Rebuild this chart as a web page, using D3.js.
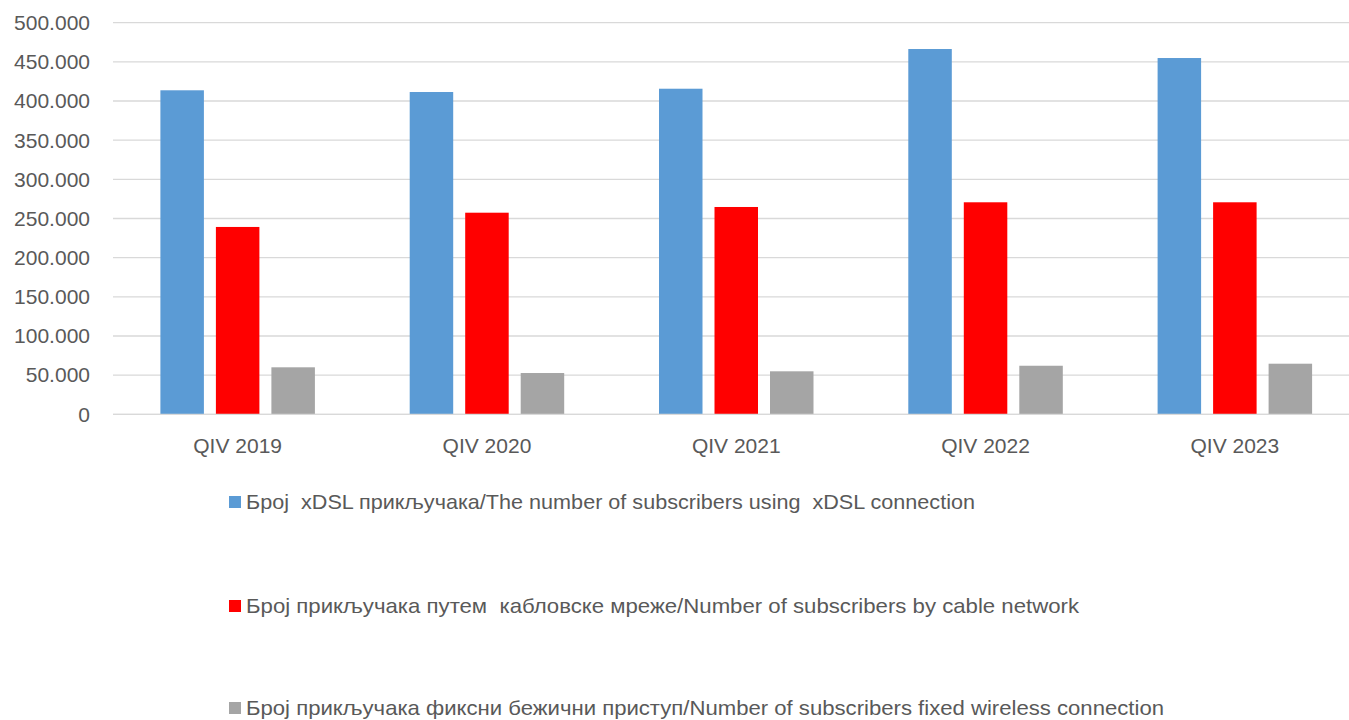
<!DOCTYPE html>
<html>
<head>
<meta charset="utf-8">
<script src="https://cdn.jsdelivr.net/npm/d3@7"></script>
<style>
body{margin:0;background:#fff;}
svg text{font-family:"Liberation Sans",Arial,sans-serif;fill:#595959;}
</style>
</head>
<body>
<svg id="chart" width="1349" height="720"></svg>
<script>
// quarters on the x axis
var quarters = ["QIV 2019","QIV 2020","QIV 2021","QIV 2022","QIV 2023"];
// subscribers per technology
var xdsl = [413700, 411500, 415700, 466400, 454900];
var cable = [239200, 257400, 264700, 270700, 270700];
var wireless = [60000, 52700, 54900, 62000, 64600];
var seriesNames = [
  "Број  xDSL прикључака/The number of subscribers using  xDSL connection",
  "Број прикључака путем  кабловске мреже/Number of subscribers by cable network",
  "Број прикључака фиксни бежични приступ/Number of subscribers fixed wireless connection"
];
var colors = ["#5b9bd5","#ff0000","#a5a5a5"];
var yTicks = [0,50000,100000,150000,200000,250000,300000,350000,400000,450000,500000];

var svg = d3.select("#chart");
var plotL = 113, plotR = 1359.5, plotT = 22.7, plotB = 414.3;

var x = d3.scaleBand().domain(quarters).range([plotL,plotR]).paddingInner(0).paddingOuter(0);
var y = d3.scaleLinear().domain([0,500000]).range([plotB,plotT]);

var fmt = function(d){ return d3.format(",")(d).replace(/,/g,"."); };

// gridlines
svg.append("g").selectAll("line").data(yTicks).enter().append("line")
  .attr("x1",plotL).attr("x2",1349)
  .attr("y1",d=>y(d)).attr("y2",d=>y(d))
  .attr("stroke","#d9d9d9").attr("stroke-width",1.3);

svg.append("g").selectAll("text").data(yTicks).enter().append("text")
  .attr("x",90).attr("y",d=>y(d)).attr("dy","0.35em")
  .attr("text-anchor","end").style("font-size","21px")
  .text(fmt);

var data = [xdsl,cable,wireless];
var barW = 43.5, gap = 12;
var inner = d3.scaleBand().domain([0,1,2]).range([0,barW*3+gap*2]).paddingInner(gap/(barW+gap));

data.forEach(function(vals,si){
  svg.append("g").selectAll("rect").data(vals).enter().append("rect")
    .attr("x",(d,i)=>x(quarters[i])+x.bandwidth()/2-(barW*3+gap*2)/2+inner(si))
    .attr("width",inner.bandwidth())
    .attr("y",d=>y(d))
    .attr("height",d=>y(0)-y(d))
    .attr("fill",colors[si]);
});

// baseline again on top
svg.append("line").attr("x1",plotL).attr("x2",1349).attr("y1",y(0)).attr("y2",y(0))
  .attr("stroke","#d9d9d9").attr("stroke-width",1.3);

svg.append("g").selectAll("text").data(quarters).enter().append("text")
  .attr("x",d=>x(d)+x.bandwidth()/2).attr("y",446).attr("dy","0.35em")
  .attr("text-anchor","middle").style("font-size","21px")
  .text(d=>d);

// legend
var legY = [502, 606, 708];
var legW = [729, 833, 918];
seriesNames.forEach(function(n,i){
  var g = svg.append("g");
  g.append("rect").attr("x",229).attr("y",legY[i]-6).attr("width",12).attr("height",12).attr("fill",colors[i]);
  g.append("text").attr("x",246).attr("y",legY[i]).attr("dy","0.35em")
    .style("font-size","21px").style("white-space","pre")
    .attr("textLength",legW[i]).attr("lengthAdjust","spacingAndGlyphs")
    .text(n);
});
</script>
</body>
</html>
